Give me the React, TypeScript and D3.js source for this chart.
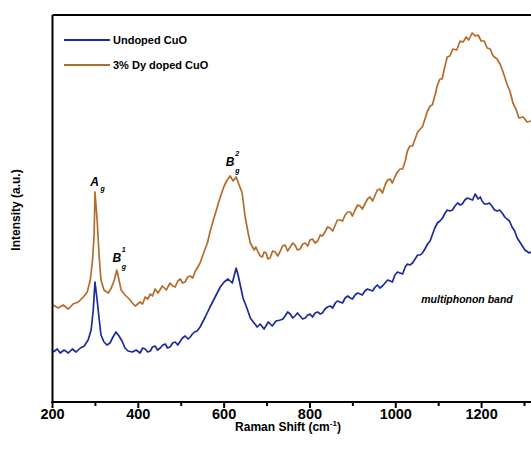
import { line, scaleLinear } from "d3";

// [Raman shift (cm-1), intensity (a.u.)]
const dopedSpectrum: [number, number][] = [
  [202, 97], [213, 94], [225, 97], [237, 93], [248, 98], [260, 100], [272, 105], [281, 110], [288, 122],
  [293, 140], [297, 167], [299, 210], [304, 182], [309, 144], [313, 122], [320, 112], [330, 109], [337, 114],
  [344, 122], [350, 132], [354, 124], [360, 112], [369, 107], [379, 103], [386, 99], [393, 96], [404, 100],
  [410, 98], [416, 105], [422, 103], [428, 108], [433, 106], [439, 113], [446, 109], [456, 116], [465, 112],
  [474, 119], [480, 116], [486, 115], [492, 121], [498, 123], [503, 119], [509, 120], [515, 125], [521, 126],
  [527, 124], [532, 130], [544, 139], [553, 150], [561, 159], [567, 170], [575, 182], [584, 195], [591, 205],
  [600, 216], [607, 222], [614, 226], [621, 221], [628, 225], [635, 217], [642, 209], [649, 185], [656, 169],
  [661, 159], [670, 152], [674, 155], [679, 150], [684, 146], [689, 145], [693, 150], [698, 149], [702, 143],
  [707, 144], [713, 151], [719, 150], [725, 146], [731, 151], [736, 156], [742, 157], [748, 151], [754, 155],
  [760, 159], [765, 157], [771, 152], [777, 153], [783, 158], [789, 159], [795, 156], [800, 162], [806, 163],
  [812, 159], [818, 161], [824, 167], [829, 166], [835, 170], [841, 175], [847, 174], [853, 171], [859, 177],
  [864, 182], [870, 182], [876, 181], [882, 187], [888, 190], [894, 190], [899, 186], [905, 192], [911, 197],
  [917, 196], [922, 193], [928, 198], [934, 203], [940, 205], [946, 201], [952, 207], [957, 212], [963, 213],
  [969, 209], [975, 217], [981, 222], [987, 223], [992, 219], [998, 225], [1004, 230], [1010, 233], [1016, 233],
  [1022, 241], [1027, 251], [1033, 256], [1039, 256], [1045, 263], [1051, 270], [1057, 273], [1062, 275],
  [1068, 283], [1074, 291], [1080, 296], [1085, 297], [1091, 306], [1097, 317], [1103, 323], [1108, 323],
  [1113, 333], [1120, 345], [1126, 346], [1133, 353], [1142, 352], [1150, 361], [1157, 360], [1164, 365],
  [1170, 362], [1178, 369], [1185, 366], [1192, 367], [1199, 361], [1206, 361], [1213, 354], [1220, 353],
  [1227, 346], [1236, 343], [1243, 338], [1250, 330], [1260, 317], [1266, 311], [1273, 299], [1280, 293],
  [1287, 284], [1297, 285], [1306, 280], [1315, 281],
];

const undopedSpectrum: [number, number][] = [
  [202, 50], [211, 53], [218, 49], [227, 52], [237, 49], [246, 53], [255, 50], [265, 54], [274, 56], [283, 62],
  [290, 72], [295, 92], [299, 120], [304, 102], [309, 82], [313, 67], [320, 60], [327, 57], [334, 59], [341, 65],
  [348, 70], [355, 66], [362, 61], [369, 54], [376, 51], [386, 50], [395, 52], [404, 49], [410, 54], [416, 53],
  [422, 50], [428, 51], [433, 55], [439, 56], [445, 52], [451, 54], [457, 57], [463, 58], [468, 54], [474, 55],
  [480, 59], [486, 60], [492, 57], [498, 61], [503, 64], [509, 66], [516, 63], [521, 65], [526, 68], [531, 70],
  [537, 71], [544, 75], [556, 85], [567, 95], [579, 105], [591, 115], [600, 120], [609, 123], [619, 119],
  [628, 134], [633, 126], [637, 118], [644, 104], [653, 94], [661, 84], [668, 80], [677, 75], [684, 78],
  [693, 73], [703, 80], [712, 76], [721, 81], [731, 82], [737, 83], [742, 86], [748, 90], [754, 88], [760, 84],
  [765, 86], [771, 89], [777, 86], [783, 83], [789, 84], [795, 87], [800, 88], [806, 85], [812, 89], [818, 90],
  [824, 88], [829, 89], [835, 93], [841, 95], [847, 96], [853, 94], [859, 99], [864, 101], [870, 100], [876, 99],
  [882, 104], [888, 106], [894, 104], [899, 103], [905, 107], [911, 109], [917, 108], [922, 107], [928, 111],
  [934, 113], [940, 112], [946, 111], [952, 115], [957, 117], [963, 114], [969, 116], [975, 119], [981, 122],
  [987, 121], [992, 120], [998, 127], [1004, 130], [1010, 129], [1016, 128], [1022, 135], [1027, 138],
  [1033, 137], [1039, 139], [1045, 143], [1051, 147], [1057, 147], [1062, 149], [1068, 153], [1074, 158],
  [1080, 161], [1085, 167], [1091, 174], [1097, 179], [1103, 181], [1109, 184], [1115, 189], [1120, 192],
  [1126, 191], [1132, 192], [1138, 196], [1144, 199], [1150, 197], [1155, 198], [1161, 202], [1167, 204],
  [1173, 203], [1179, 202], [1185, 208], [1192, 203], [1197, 205], [1201, 201], [1207, 198], [1213, 198],
  [1218, 199], [1224, 196], [1230, 192], [1236, 191], [1242, 192], [1248, 189], [1254, 185], [1259, 183],
  [1265, 181], [1271, 175], [1277, 171], [1283, 164], [1292, 158], [1301, 152], [1311, 149], [1315, 150],
];

const xTicks = [200, 400, 600, 800, 1000, 1200];
const xMinorTicks = [300, 500, 700, 900, 1100, 1300];

const seriesNames = ["Undoped CuO", "3% Dy doped CuO"];
const seriesColors = ["#1b2b9c", "#b46c2c"];

const W = 531;
const H = 452;
const left = 52.5;
const top = 15;
const bottom = 402;

const App = () => {
  const x = scaleLinear().domain([200, 1400]).range([left, left + 1200 * 0.4291]);
  const y = scaleLinear().domain([0, 387]).range([bottom, top]);

  const path = line<[number, number]>()
    .x((d) => x(d[0]))
    .y((d) => y(d[1]));

  const bold = { fontFamily: "'Liberation Sans', Arial, sans-serif", fontWeight: 700 };

  return (
    <svg width={W} height={H} style={{ position: "absolute", left: 0, top: 0, background: "#fff" }}>
      <rect width={W} height={H} fill="#fff" />
      {[undopedSpectrum, dopedSpectrum].map((s, i) => (
        <path
          key={seriesNames[i]}
          d={path(s)!}
          fill="none"
          stroke={seriesColors[i]}
          strokeWidth={1.7}
          strokeLinejoin="round"
        />
      ))}

      {/* frame */}
      <line x1={left} x2={W} y1={top} y2={top} stroke="#000" strokeWidth={2} />
      <line x1={left} x2={left} y1={top} y2={bottom + 1} stroke="#000" strokeWidth={2} />
      <line x1={left - 1} x2={W} y1={bottom} y2={bottom} stroke="#000" strokeWidth={2} />

      {xTicks.map((t) => (
        <g key={`t-${t}`}>
          <line x1={x(t)} x2={x(t)} y1={bottom} y2={bottom + 6} stroke="#000" strokeWidth={2} />
          <text x={x(t)} y={bottom + 16.5} textAnchor="middle" fontSize={14.5} {...bold}>
            {t}
          </text>
        </g>
      ))}
      {xMinorTicks.map((t) => (
        <line key={`m-${t}`} x1={x(t)} x2={x(t)} y1={bottom} y2={bottom + 4} stroke="#000" strokeWidth={2} />
      ))}

      <text x={288} y={431} textAnchor="middle" fontSize={12} {...bold}>
        Raman Shift (cm
        <tspan dy={-5} fontSize={8}>-1</tspan>
        <tspan dy={5}>)</tspan>
      </text>
      <text transform={`translate(20,210) rotate(-90)`} textAnchor="middle" fontSize={12} {...bold}>
        Intensity (a.u.)
      </text>

      {/* legend */}
      {seriesNames.map((n, i) => (
        <g key={n} transform={`translate(64,${40 + i * 25})`}>
          <line x1={0} x2={46} y1={0} y2={0} stroke={seriesColors[i]} strokeWidth={2} />
          <text x={49} y={4} fontSize={11} {...bold}>
            {n}
          </text>
        </g>
      ))}

      {/* peak labels */}
      <g {...bold} fontStyle="italic">
        <text x={x(298)} y={186} textAnchor="middle" fontSize={12}>A</text>
        <text x={x(298) + 6} y={191} fontSize={7}>g</text>
        <text x={x(350)} y={262} textAnchor="middle" fontSize={12}>B</text>
        <text x={x(350) + 5} y={252} fontSize={7}>1</text>
        <text x={x(350) + 5} y={269} fontSize={7}>g</text>
        <text x={x(614)} y={166} textAnchor="middle" fontSize={12}>B</text>
        <text x={x(614) + 5} y={156} fontSize={7}>2</text>
        <text x={x(614) + 5} y={173} fontSize={7}>g</text>
        <text x={467} y={303} textAnchor="middle" fontSize={10.5}>multiphonon band</text>
      </g>
    </svg>
  );
};

export default App;
